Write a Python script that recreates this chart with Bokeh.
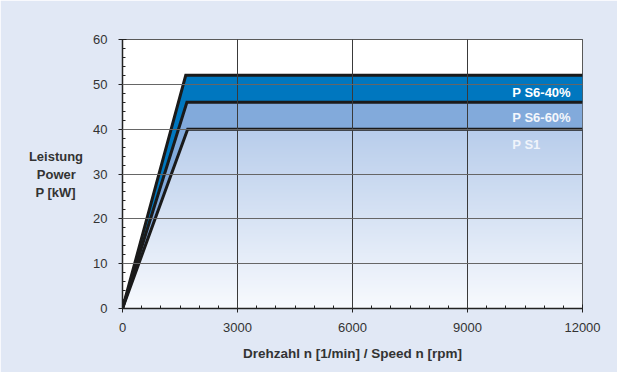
import numpy as np
from bokeh.plotting import figure
from bokeh.models import FixedTicker, Range1d, Label
from bokeh.embed import file_html
from bokeh.resources import INLINE

# Data
speed_s1 = [0, 1700, 12000]
power_s1 = [0, 40, 40]
speed_s6_60 = [0, 1680, 12000]
power_s6_60 = [0, 46, 46]
speed_s6_40 = [0, 1650, 12000]
power_s6_40 = [0, 52, 52]
series_labels = ["P S6-40%", "P S6-60%", "P S1"]
x_ticks = [0, 3000, 6000, 9000, 12000]
y_ticks = [0, 10, 20, 30, 40, 50, 60]

BG = "#E1E8F5"
FONT = "Liberation Sans"
NB = "\u00a0"

p = figure(width=617, height=372, output_backend="svg", toolbar_location=None,
           x_range=Range1d(0, 12000), y_range=Range1d(0, 60),
           min_border_left=122, min_border_right=35, min_border_top=39, min_border_bottom=64,
           background_fill_color="white", border_fill_color=BG,
           outline_line_color="#222222", outline_line_width=1)

xs = np.linspace(0, 12000, 2401)
c1 = np.interp(xs, speed_s1, power_s1)
c2 = np.interp(xs, speed_s6_60, power_s6_60)
c3 = np.interp(xs, speed_s6_40, power_s6_40)

# gradient under P S1
n = 200
top = np.array([0xB8, 0xCD, 0xEB])
bot = np.array([0xF8, 0xFA, 0xFE])
t = np.linspace(0, 1, n)[:, None]
cols = (bot + (top - bot) * t).astype(np.uint32)
img = (255 << 24) | (cols[:, 2] << 16) | (cols[:, 1] << 8) | cols[:, 0]
img = img.reshape(n, 1).astype(np.uint32)
p.image_rgba(image=[img], x=0, y=0, dw=12000, dh=max(power_s1))

p.varea(x=xs, y1=c1, y2=60, fill_color="white")
p.varea(x=xs, y1=c1, y2=c2, fill_color="#82AADB")
p.varea(x=xs, y1=c2, y2=c3, fill_color="#0077BF")

p.xgrid.ticker = FixedTicker(ticks=x_ticks)
p.ygrid.ticker = FixedTicker(ticks=y_ticks)
for g in (p.xgrid, p.ygrid):
    g.grid_line_color = "#666666"
    g.grid_line_width = 1
    g.level = "overlay"
p.xgrid.grid_line_color = "#3A3A3A"

for sx, sy in [(speed_s1, power_s1), (speed_s6_60, power_s6_60), (speed_s6_40, power_s6_40)]:
    p.line(sx, sy, line_color="#1A1A1A", line_width=3, line_join="miter")

label_y = [48.2, 42.6, 36.6]
label_col = ["white", "#F4F7FC", "#F0F4FB"]
for txt, ly, lc in zip(series_labels, label_y, label_col):
    p.add_layout(Label(x=10170, y=ly, text=txt, text_font=FONT, text_font_style="bold",
                       text_font_size="13px", text_color=lc, text_baseline="middle", text_align="left"))

p.xaxis.ticker = FixedTicker(ticks=x_ticks, minor_ticks=list(range(0, 12001, 500)))
p.yaxis.ticker = FixedTicker(ticks=y_ticks, minor_ticks=list(range(0, 61, 2)))
for ax in (p.xaxis, p.yaxis):
    ax.axis_line_color = "#222222"
    ax.axis_line_width = 1.5
    ax.major_tick_line_color = "#222222"
    ax.minor_tick_line_color = "#222222"
    ax.major_tick_in = 4
    ax.major_tick_out = 4
    ax.minor_tick_in = 3
    ax.minor_tick_out = 0
    ax.major_label_text_font = FONT
    ax.major_label_text_font_size = "13px"
    ax.major_label_text_color = "#333333"
p.xaxis.major_label_standoff = 10
p.yaxis.major_label_standoff = 11

p.xaxis.axis_label = "Drehzahl n [1/min] / Speed n [rpm]"
p.xaxis.axis_label_text_font = FONT
p.xaxis.axis_label_text_font_style = "bold"
p.xaxis.axis_label_text_font_size = "13.5px"
p.xaxis.axis_label_text_color = "#333333"
p.xaxis.axis_label_standoff = 11

yax = p.yaxis[0]
yax.axis_label = "Leistung\nPower" + NB * 2 + "\nP [kW]" + NB * 2
yax.axis_label_text_font = FONT
yax.axis_label_text_font_style = "bold"
yax.axis_label_text_font_size = "13px"
yax.axis_label_text_color = "#333333"
yax.axis_label_text_align = "center"
yax.axis_label_standoff = 7
if "axis_label_orientation" in yax.properties():
    yax.axis_label_orientation = "horizontal"

open("out.html", "w").write(file_html(p, INLINE))
